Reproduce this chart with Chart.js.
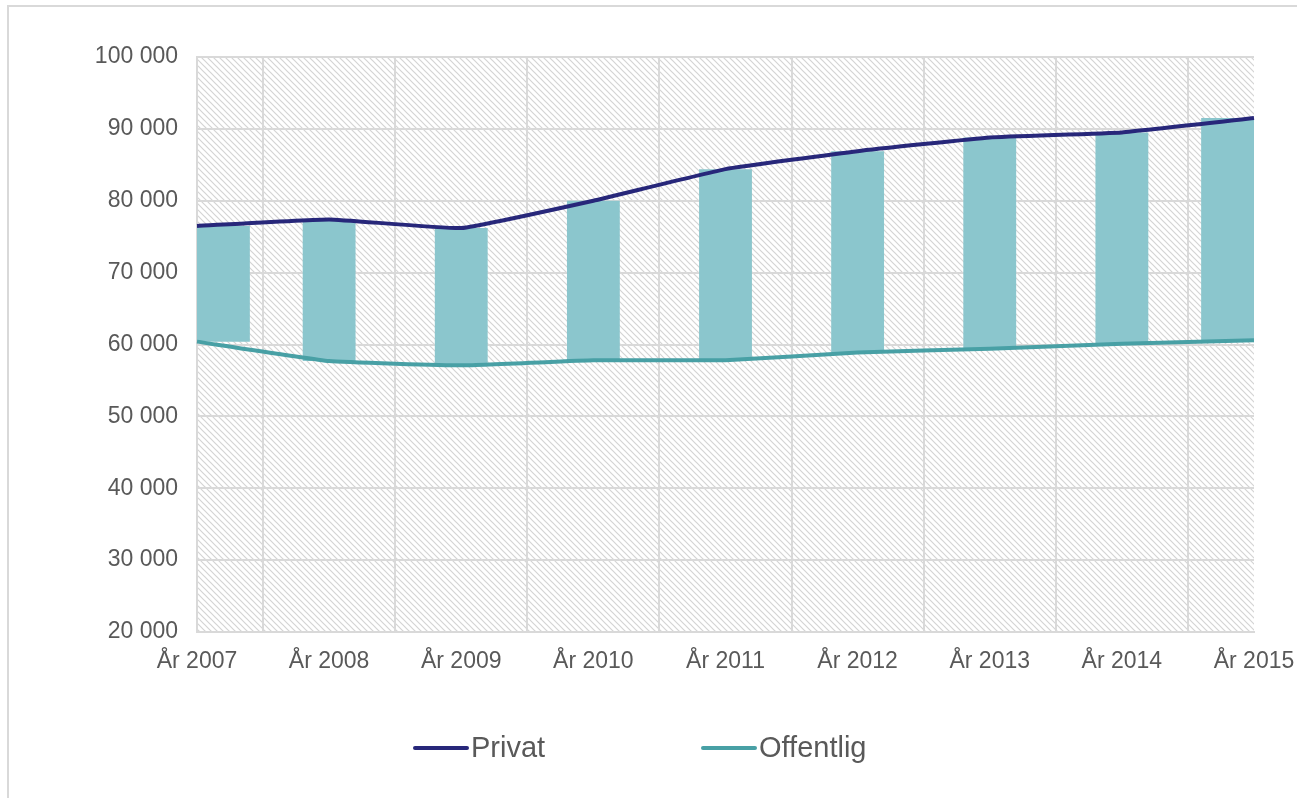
<!DOCTYPE html>
<html>
<head>
<meta charset="utf-8">
<script src="https://cdn.jsdelivr.net/npm/chart.js@4/dist/chart.umd.min.js"></script>
<style>
  html, body { margin: 0; padding: 0; background: #fff; }
  #wrap { width: 1297px; height: 798px; }
</style>
</head>
<body>
<div id="wrap"><canvas id="chart" width="1297" height="798"></canvas></div>
<script>
var years = ['År 2007', 'År 2008', 'År 2009', 'År 2010', 'År 2011', 'År 2012', 'År 2013', 'År 2014', 'År 2015'];
var privat = [76500, 77400, 76200, 80000, 84400, 86900, 88800, 89500, 91500];
var offentlig = [60400, 57700, 57100, 57800, 57800, 58900, 59400, 60100, 60600];

var spans = privat.map(function(p, i) { return [offentlig[i], p]; });

function hatch() {
  var c = document.createElement('canvas');
  c.width = 6; c.height = 6;
  var g = c.getContext('2d');
  g.fillStyle = '#ffffff';
  g.fillRect(0, 0, 6, 6);
  g.strokeStyle = '#d4d4d4';
  g.lineWidth = 1.2;
  g.beginPath();
  g.moveTo(-1, -1); g.lineTo(7, 7);
  g.moveTo(-1, 5); g.lineTo(1, 7);
  g.moveTo(5, -1); g.lineTo(7, 1);
  g.stroke();
  return g.createPattern(c, 'repeat');
}

var backdrop = {
  id: 'backdrop',
  beforeDraw: function(chart) {
    var ctx = chart.ctx, a = chart.chartArea;
    ctx.save();
    ctx.strokeStyle = '#d9d9d9';
    ctx.lineWidth = 2;
    ctx.beginPath();
    ctx.moveTo(8, 798); ctx.lineTo(8, 6); ctx.lineTo(1297, 6);
    ctx.stroke();
    ctx.fillStyle = hatch();
    ctx.fillRect(a.left, a.top, a.right - a.left, a.bottom - a.top);
    ctx.restore();
  }
};

// Excel pulls the first and last bar inside the plot area
var edgeBars = {
  id: 'edgeBars',
  afterDatasetsUpdate: function(chart) {
    chart.data.datasets.forEach(function(ds, i) {
      if (ds.type !== 'bar') return;
      var els = chart.getDatasetMeta(i).data;
      if (!els.length) return;
      var first = els[0], last = els[els.length - 1];
      first.x += first.width / 2;
      last.x -= last.width / 2;
    });
  }
};

var legendLine = {
  id: 'legendLine',
  afterDraw: function(chart) {
    var ctx = chart.ctx;
    var xs = [415, 703];
    ctx.save();
    ctx.font = '29px "Liberation Sans", Arial, sans-serif';
    ctx.textBaseline = 'middle';
    chart.data.datasets.forEach(function(ds) {
      if (ds.type !== 'line') return;
      var x = xs.shift();
      ctx.strokeStyle = ds.borderColor;
      ctx.lineWidth = 4;
      ctx.lineCap = 'round';
      ctx.beginPath();
      ctx.moveTo(x, 748); ctx.lineTo(x + 52, 748);
      ctx.stroke();
      ctx.fillStyle = '#595959';
      ctx.fillText(ds.label, x + 56, 749);
    });
    ctx.restore();
  }
};

new Chart(document.getElementById('chart'), {
  data: {
    labels: years,
    datasets: [
      {
        type: 'line',
        label: 'Privat',
        data: privat,
        borderColor: '#27277a',
        borderWidth: 4,
        pointRadius: 0,
        tension: 0.1,
        clip: 3,
        order: 1
      },
      {
        type: 'line',
        label: 'Offentlig',
        data: offentlig,
        borderColor: '#48a0a5',
        borderWidth: 4,
        pointRadius: 0,
        tension: 0.1,
        clip: 3,
        order: 2
      },
      {
        type: 'bar',
        label: 'Spann',
        data: spans,
        backgroundColor: '#8bc6cd',
        borderWidth: 0,
        barPercentage: 1,
        categoryPercentage: 0.4,
        order: 3
      }
    ]
  },
  options: {
    responsive: false,
    animation: false,
    layout: { padding: { left: 0, top: 57, right: 0, bottom: 116 } },
    plugins: {
      legend: { display: false },
      tooltip: { enabled: false }
    },
    scales: {
      x: {
        offset: false,
        grid: { color: '#d9d9d9', lineWidth: 2, drawTicks: false },
        border: { color: '#d9d9d9', width: 2 },
        ticks: {
          color: '#595959',
          font: { size: 23, family: '"Liberation Sans", Arial, sans-serif' },
          padding: 16,
          maxRotation: 0,
          autoSkip: false
        },
        afterFit: function(s) {
          s.height = 50;
          s.paddingRight = 43;
          s.paddingLeft = 0;
        }
      },
      y: {
        min: 20000,
        max: 100000,
        grid: { color: '#d9d9d9', lineWidth: 2, drawTicks: false },
        border: { color: '#d9d9d9', width: 2 },
        ticks: {
          stepSize: 10000,
          color: '#595959',
          font: { size: 23, family: '"Liberation Sans", Arial, sans-serif' },
          padding: 19,
          callback: function(v) {
            return String(v).replace(/\B(?=(\d{3})+(?!\d))/g, ' ');
          }
        },
        afterFit: function(s) {
          s.width = 197;
          s.paddingTop = 0;
          s.paddingBottom = 0;
        }
      }
    }
  },
  plugins: [backdrop, edgeBars, legendLine]
});
</script>
</body>
</html>
